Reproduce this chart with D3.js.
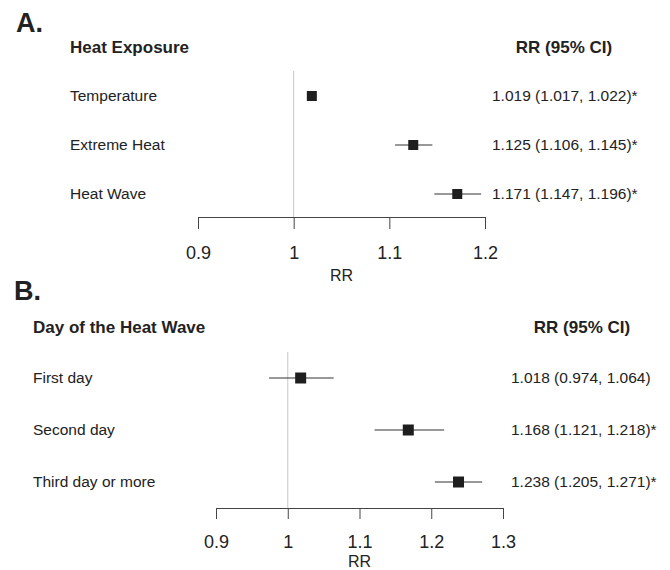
<!DOCTYPE html>
<html><head><meta charset="utf-8">
<script src="https://cdn.jsdelivr.net/npm/d3@7"></script>
<style>body{margin:0;background:#fff}svg{display:block}text{font-family:"Liberation Sans",Arial,sans-serif;fill:#222}</style>
</head><body><svg id="c" width="670" height="570"></svg>
<script>
// Panel A data
const aLabels = ["Temperature", "Extreme Heat", "Heat Wave"];
const aRR = [1.019, 1.125, 1.171];
const aLo = [1.017, 1.106, 1.147];
const aHi = [1.022, 1.145, 1.196];
const aText = ["1.019 (1.017, 1.022)*", "1.125 (1.106, 1.145)*", "1.171 (1.147, 1.196)*"];
const aTicks = [0.9, 1, 1.1, 1.2];
// Panel B data
const bLabels = ["First day", "Second day", "Third day or more"];
const bRR = [1.018, 1.168, 1.238];
const bLo = [0.974, 1.121, 1.205];
const bHi = [1.064, 1.218, 1.271];
const bText = ["1.018 (0.974, 1.064)", "1.168 (1.121, 1.218)*", "1.238 (1.205, 1.271)*"];
const bTicks = [0.9, 1, 1.1, 1.2, 1.3];

const svg = d3.select("#c");

function panel(cfg) {
  const g = svg.append("g");
  const x = d3.scaleLinear().domain([cfg.ticks[0], cfg.ticks[cfg.ticks.length-1]]).range(cfg.xr);
  const y = d3.scalePoint().domain(cfg.labels).range(cfg.yr);
  g.append("text").attr("x", cfg.letterX).attr("y", cfg.letterY).style("font-size","27px").style("font-weight","bold").text(cfg.letter);
  g.append("text").attr("x", cfg.labelX).attr("y", cfg.headY).style("font-size","17px").style("font-weight","bold").text(cfg.title);
  g.append("text").attr("x", cfg.headX).attr("y", cfg.headY).attr("text-anchor","middle").style("font-size","17px").style("font-weight","bold").text("RR (95% CI)");
  // reference line
  g.append("line").attr("x1", x(1)).attr("x2", x(1)).attr("y1", cfg.refTop).attr("y2", cfg.axisY).attr("stroke","#c8c8c8").attr("stroke-width",1);
  // axis
  const ax = g.append("g").attr("transform", `translate(0,${cfg.axisY})`)
    .call(d3.axisBottom(x).tickValues(cfg.ticks).tickFormat(d3.format("")).tickSize(cfg.tickLen).tickSizeOuter(cfg.tickLen).tickPadding(cfg.tickPad));
  ax.select(".domain").attr("stroke","#444");
  ax.selectAll(".tick line").attr("stroke","#444");
  ax.selectAll(".tick text").style("font-size","18px").attr("fill","#222").style("font-family","'Liberation Sans',Arial,sans-serif");
  g.append("text").attr("x", (cfg.xr[0]+cfg.xr[1])/2).attr("y", cfg.rrY).attr("text-anchor","middle").style("font-size","16px").text("RR");
  cfg.labels.forEach((lab, i) => {
    const yy = y(lab);
    g.append("text").attr("x", cfg.labelX).attr("y", yy).attr("dy","0.35em").style("font-size","15.5px").text(lab);
    g.append("line").attr("x1", x(cfg.lo[i])).attr("x2", x(cfg.hi[i])).attr("y1", yy).attr("y2", yy).attr("stroke","#333").attr("stroke-width",1.1);
    g.append("rect").attr("x", x(cfg.rr[i]) - cfg.sq/2).attr("y", yy - cfg.sq/2).attr("width", cfg.sq).attr("height", cfg.sq).attr("fill","#1e1e1e");
    g.append("text").attr("x", cfg.valX).attr("y", yy).attr("dy","0.35em").style("font-size","15.5px").text(cfg.text[i]);
  });
}

panel({letter:"A.", letterX:16, letterY:32, title:"Heat Exposure", labelX:70, headY:53, headX:564,
  labels:aLabels, rr:aRR, lo:aLo, hi:aHi, text:aText, ticks:aTicks,
  xr:[198,485], yr:[96,194], refTop:71, axisY:217, tickLen:12, tickPad:17, rrY:281, valX:492, sq:10});
panel({letter:"B.", letterX:14, letterY:300, title:"Day of the Heat Wave", labelX:33, headY:333, headX:582,
  labels:bLabels, rr:bRR, lo:bLo, hi:bHi, text:bText, ticks:bTicks,
  xr:[216,503], yr:[378,482], refTop:352, axisY:508, tickLen:11, tickPad:16, rrY:567, valX:511, sq:11});
</script></body></html>
